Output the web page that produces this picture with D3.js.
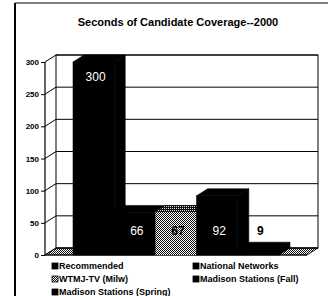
<!DOCTYPE html>
<html>
<head>
<meta charset="utf-8">
<script src="https://cdn.jsdelivr.net/npm/d3@7"></script>
<style>
  body { margin: 0; background: #fff; }
  svg { display: block; font-family: "Liberation Sans", Arial, sans-serif; }
</style>
</head>
<body>
<svg id="chart" width="328" height="296"></svg>
<script>
const series = ["Recommended", "National Networks", "WTMJ-TV (Milw)", "Madison Stations (Fall)", "Madison Stations (Spring)"]
const seconds = [300, 66, 67, 92, 9]
const yTicks = [0, 50, 100, 150, 200, 250, 300]
const title = "Seconds of Candidate Coverage--2000"

// 3d depth offset
const dx = 11
const dy = -7
const left = 45
const right = 307

const data = series.map((s, i) => ({ name: s, value: seconds[i] }))

const svg = d3.select("#chart")

const defs = svg.append("defs")
const dots = defs.append("pattern")
    .attr("id", "dots")
    .attr("width", 2)
    .attr("height", 2)
    .attr("patternUnits", "userSpaceOnUse")
dots.append("rect").attr("width", 2).attr("height", 2).attr("fill", "#fff")
dots.append("rect").attr("width", 1).attr("height", 1).attr("fill", "#111")
dots.append("rect").attr("x", 1).attr("y", 1).attr("width", 1).attr("height", 1).attr("fill", "#111")

const darkDots = defs.append("pattern")
    .attr("id", "darkDots")
    .attr("width", 2)
    .attr("height", 2)
    .attr("patternUnits", "userSpaceOnUse")
darkDots.append("rect").attr("width", 2).attr("height", 2).attr("fill", "#111")
darkDots.append("rect").attr("width", 1).attr("height", 1).attr("fill", "#ddd")

const color = d3.scaleOrdinal()
    .domain(series)
    .range(["#000", "#000", "url(#dots)", "#000", "#000"])
const topColor = d3.scaleOrdinal()
    .domain(series)
    .range(["#000", "#000", "url(#darkDots)", "#000", "#000"])
const labelColor = d3.scaleOrdinal()
    .domain(series)
    .range(["#fff", "#fff", "#000", "#fff", "#000"])

const y = d3.scaleLinear()
    .domain([0, 300])
    .range([255, 62])

const x = d3.scaleBand()
    .domain(series)
    .range([left, right])
    .paddingInner(0)
    .paddingOuter(0.68)

// frame
svg.append("line").attr("x1", 15).attr("x2", 15).attr("y1", 3).attr("y2", 296)
    .attr("stroke", "#000").attr("stroke-width", 2)
svg.append("line").attr("x1", 15).attr("x2", 328).attr("y1", 3).attr("y2", 3)
    .attr("stroke", "#000").attr("stroke-width", 1)

svg.append("text")
    .attr("x", 178)
    .attr("y", 26)
    .attr("text-anchor", "middle")
    .style("font-size", "11px")
    .style("font-weight", "bold")
    .text(title)

// floor
const [y0, yTop] = y.range()
svg.append("path")
    .attr("d", `M${left},${y0} L${right},${y0} L${right + dx},${y0 + dy} L${left + dx},${y0 + dy} Z`)
    .attr("fill", "url(#dots)")
    .attr("stroke", "#000")
    .attr("stroke-width", 0.8)

// back wall + gridlines
svg.append("rect")
    .attr("x", left + dx)
    .attr("y", yTop + dy)
    .attr("width", right - left)
    .attr("height", y0 - yTop)
    .attr("fill", "none")
    .attr("stroke", "#000")
    .attr("stroke-width", 1)

const grid = svg.append("g")
grid.selectAll("line.back")
    .data(yTicks)
    .enter()
    .append("line")
        .attr("class", "back")
        .attr("x1", left + dx)
        .attr("x2", right + dx)
        .attr("y1", d => y(d) + dy)
        .attr("y2", d => y(d) + dy)
        .attr("stroke", "#000")
        .attr("stroke-width", 1)

// side wall lines
grid.selectAll("line.side")
    .data(yTicks)
    .enter()
    .append("line")
        .attr("class", "side")
        .attr("x1", left)
        .attr("x2", left + dx)
        .attr("y1", d => y(d))
        .attr("y2", d => y(d) + dy)
        .attr("stroke", "#000")
        .attr("stroke-width", 1)

svg.append("line")
    .attr("x1", left).attr("x2", left)
    .attr("y1", yTop).attr("y2", y0)
    .attr("stroke", "#000").attr("stroke-width", 1.2)
svg.append("line")
    .attr("x1", left).attr("x2", right)
    .attr("y1", y0).attr("y2", y0)
    .attr("stroke", "#000").attr("stroke-width", 1.2)

const yAxis = d3.axisLeft(y).tickValues(yTicks).tickSize(4).tickPadding(2)
svg.append("g")
    .attr("transform", `translate(${left}, 0)`)
    .call(yAxis)
    .call(g => g.select(".domain").remove())
    .call(g => g.selectAll("text")
        .style("font-family", "'Liberation Sans', Arial, sans-serif")
        .style("font-size", "8px")
        .style("font-weight", "bold")
        .attr("fill", "#000"))

// bars
const bars = svg.selectAll("g.bar")
    .data(data)
    .enter()
    .append("g")
        .attr("class", "bar")

const edge = d => topColor(d.name) === "#000" ? "#000" : "none"

bars.append("path")
    .attr("d", d => {
        const x1 = x(d.name) + x.bandwidth()
        return `M${x1},${y0} L${x1},${y(d.value)} L${x1 + dx},${y(d.value) + dy} L${x1 + dx},${y0 + dy} Z`
    })
    .attr("fill", d => topColor(d.name))
    .attr("stroke", edge)
    .attr("stroke-width", 0.6)

bars.append("path")
    .attr("d", d => {
        const x0 = x(d.name)
        const x1 = x0 + x.bandwidth()
        const t = y(d.value)
        return `M${x0},${t} L${x1},${t} L${x1 + dx},${t + dy} L${x0 + dx},${t + dy} Z`
    })
    .attr("fill", d => topColor(d.name))
    .attr("stroke", edge)
    .attr("stroke-width", 0.6)

bars.append("rect")
    .attr("x", d => x(d.name))
    .attr("y", d => y(d.value))
    .attr("width", x.bandwidth())
    .attr("height", d => y0 - y(d.value))
    .attr("fill", d => color(d.name))
    .attr("stroke", edge)
    .attr("stroke-width", 0.6)

// value labels: tall bar labelled under its top, the rest on one line
svg.selectAll("text.value")
    .data(data)
    .enter()
    .append("text")
        .attr("class", "value")
        .attr("x", d => x(d.name) + x.bandwidth() / 2 + 2)
        .attr("y", d => d.value > 150 ? y(d.value) + 19 : y(31))
        .attr("text-anchor", "middle")
        .style("font-size", "12px")
        .style("font-weight", d => labelColor(d.name) === "#000" ? "bold" : "normal")
        .attr("fill", d => labelColor(d.name))
        .text(d => d.value)

// legend
const legend = svg.selectAll("g.legend")
    .data(data)
    .enter()
    .append("g")
        .attr("class", "legend")
        .attr("transform", (d, i) => `translate(${i % 2 === 0 ? 52 : 193}, ${266 + Math.floor(i / 2) * 13})`)

legend.append("rect")
    .attr("x", 0)
    .attr("y", -3)
    .attr("width", 6)
    .attr("height", 6)
    .attr("fill", d => color(d.name))
    .attr("stroke", "#000")
    .attr("stroke-width", 0.8)

legend.append("text")
    .attr("x", 7)
    .attr("y", 0)
    .attr("dy", "0.35em")
    .style("font-size", "9px")
    .style("font-weight", "bold")
    .text(d => d.name)
</script>
</body>
</html>
